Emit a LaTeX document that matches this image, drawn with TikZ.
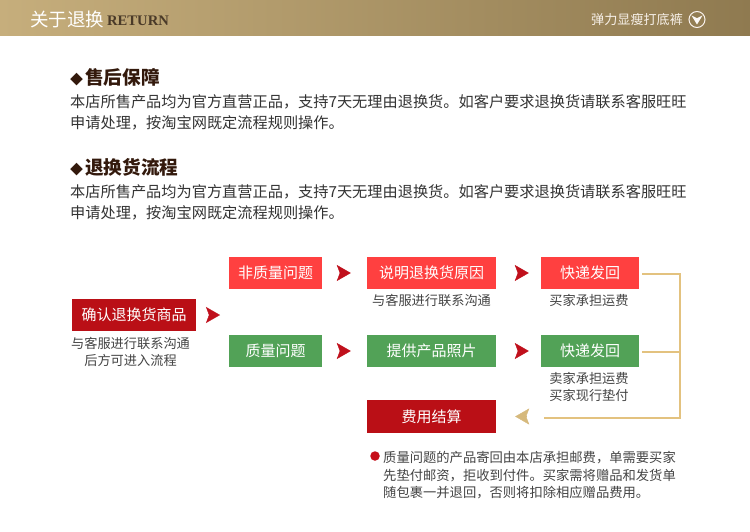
\documentclass[tikz,border=0pt]{standalone}
\usepackage{fontspec}
\setmainfont{Noto Sans CJK SC}
\newfontfamily\retfont{Liberation Serif}
\usetikzlibrary{arrows.meta,calc}
\definecolor{redbox}{HTML}{FF4040}
\definecolor{greenbox}{HTML}{52A257}
\definecolor{darkbox}{HTML}{BA0F16}
\definecolor{arrowred}{HTML}{C0101C}
\definecolor{goldline}{HTML}{E3C27F}
\definecolor{goldarrow}{HTML}{D6B97C}
\definecolor{headtext}{HTML}{33190C}
\definecolor{bodytext}{HTML}{333333}
\definecolor{captext}{HTML}{444444}
\definecolor{bandleft}{HTML}{C6AE7C}
\definecolor{bandright}{HTML}{8F7A50}
\definecolor{retcolor}{HTML}{4A3A28}
\tikzset{
  x=1pt,y=-1pt,
  box/.style={minimum height=32pt,inner sep=0pt,text=white,font=\fontsize{15}{15}\selectfont},
  redb/.style={box,fill=redbox},
  greenb/.style={box,fill=greenbox},
  darkb/.style={box,fill=darkbox},
  captxt/.style={inner sep=0pt,align=center,text=captext,font=\fontsize{13.2}{17.4}\selectfont},
  para/.style={anchor=north west,inner sep=0pt,align=left,text=bodytext,font=\fontsize{15.2}{21}\selectfont},
  headg/.style={anchor=west,inner sep=0pt,text=headtext,font=\fontsize{18.6}{20}\bfseries\selectfont},
  flowarrow/.style={draw=arrowred,line width=0.4pt,-{Stealth[length=14pt,width=16pt,inset=3pt,fill=arrowred]}},
  backarrow/.style={draw=goldarrow,line width=0.4pt,-{Stealth[length=14pt,width=16pt,inset=3pt,fill=goldarrow]}},
  link/.style={draw=goldline,line width=1.1pt},
}
\newcommand{\hdiamond}{{\fontsize{13}{13}\selectfont ◆}\hspace{2pt}}
\begin{document}
\begin{tikzpicture}
\useasboundingbox (0,0) rectangle (750,532);
\fill[white] (0,0) rectangle (750,532);
% header band
\shade[left color=bandleft,right color=bandright] (0,0) rectangle (750,36);
\node[anchor=west,inner sep=0pt,text=white,font=\fontsize{18.5}{20}\selectfont] (title) at (30,19) {关于退换};
\node[anchor=west,inner sep=0pt,text=retcolor,font=\fontsize{14.6}{15}\bfseries\retfont] (ret) at (107,21) {RETURN};
\node[anchor=west,inner sep=0pt,text=white!88!brown,font=\fontsize{13.1}{14}\selectfont] (sub) at (591,19.5) {弹力显瘦打底裤};
\node[circle,draw=white!90!brown,line width=1pt,minimum size=16pt,inner sep=0pt] (circ) at (697,19.5) {};
\fill[white!95!brown] (691.5,15.5) -- (697,18.2) -- (702.5,15.5) -- (697,24.5) -- cycle;
% headings and paragraphs
\node[headg] (h1) at (70,77) {\hdiamond 售后保障};
\node[para] (p1) at (70,94.5) {本店所售产品均为官方直营正品，支持7天无理由退换货。如客户要求退换货请联系客服旺旺\\申请处理，按淘宝网既定流程规则操作。};
\node[headg] (h2) at (70,167) {\hdiamond 退换货流程};
\node[para] (p2) at (70,184.5) {本店所售产品均为官方直营正品，支持7天无理由退换货。如客户要求退换货请联系客服旺旺\\申请处理，按淘宝网既定流程规则操作。};
% boxes
\node[darkb,minimum width=124pt] (confirm) at (134,315) {确认退换货商品};
\node[redb,minimum width=93pt] (nonq) at (275.5,273) {非质量问题};
\node[greenb,minimum width=93pt] (qual) at (275.5,351) {质量问题};
\node[redb,minimum width=129pt] (reason) at (431.5,273) {说明退换货原因};
\node[greenb,minimum width=129pt] (photo) at (431.5,351) {提供产品照片};
\node[redb,minimum width=98pt] (ship1) at (590,273) {快递发回};
\node[greenb,minimum width=98pt] (ship2) at (590,351) {快递发回};
\node[darkb,minimum width=129pt,minimum height=33pt] (settle) at (431.5,416.5) {费用结算};
% captions
\node[captxt] (c0) at (130.5,352) {与客服进行联系沟通\\后方可进入流程};
\node[captxt] (c1) at (431.5,300) {与客服进行联系沟通};
\node[captxt] (c2) at (589,300) {买家承担运费};
\node[captxt] (c3) at (589,387) {卖家承担运费\\买家现行垫付};
\node[captxt,anchor=north west,align=left,font=\fontsize{13.3}{17.5}\selectfont] (note) at (383,451.5) {质量问题的产品寄回由本店承担邮费，单需要买家\\先垫付邮资，拒收到付件。买家需将赠品和发货单\\随包裹一并退回，否则将扣除相应赠品费用。};
\node[circle,fill=arrowred!90!red,minimum size=9.5pt,inner sep=0pt] (dot) at (375,456) {};
% arrows
\coordinate (af) at (220,315);
\draw[flowarrow,shorten <=14pt] (confirm.east) -- (af);
\draw[flowarrow,shorten <=18pt,shorten >=16pt] (nonq) -- (reason);
\draw[flowarrow,shorten <=18pt,shorten >=16pt] (qual) -- (photo);
\draw[flowarrow,shorten <=22pt,shorten >=12pt] (reason) -- (ship1);
\draw[flowarrow,shorten <=22pt,shorten >=12pt] (photo) -- (ship2);
% gold connectors
\coordinate (turn1) at (680,274);
\coordinate (turn2) at (680,418);
\coordinate (lineend) at (544,418);
\coordinate (backstart) at (529,416.5);
\coordinate (mid) at (680,352);
\draw[link,line join=miter] ([xshift=3pt,yshift=-1pt]ship1.east) -- (turn1) -- (turn2) -- (lineend);
\draw[link] ([xshift=3pt,yshift=-1pt]ship2.east) -- (mid);
\draw[backarrow,shorten <=3pt,shorten >=19pt] (backstart) -- (settle.east);
\end{tikzpicture}
\end{document}
